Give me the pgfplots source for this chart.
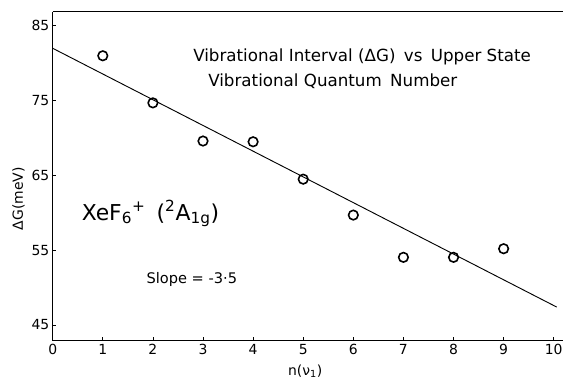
\documentclass[border=0pt]{standalone}
\usepackage{pgfplots}
\pgfplotsset{compat=1.18}
\usepackage{fontspec}
\setmainfont{DejaVu Sans}
\begin{document}
\begin{tikzpicture}[x=0.75pt,y=0.75pt]
\begin{axis}[
  name=ax, at={(0,0)}, anchor=south west,
  scale only axis, width=384.75pt, height=248.25pt,
  xmin=0, xmax=10.18, ymin=42.9, ymax=86.9,
  axis x line=box, axis y line=left,
  axis line style={line width=0.8pt, -},
  xtick={0,1,...,10}, ytick={45,55,65,75,85},
  xtick pos=bottom, ytick pos=left,
  tick align=inside, major tick length=2.5pt,
  tick style={line width=0.6pt,black},
  /pgf/number format/assume math mode=true,
  ticklabel style={font=\fontsize{10.5}{12}\selectfont},
  xticklabel style={yshift=1pt},
  yticklabel style={xshift=1pt},
  xlabel={n(ν\textsubscript{1})},
  xlabel style={at={(axis description cs:0.495,-0.0915)}, anchor=center, font=\fontsize{10.5}{12}\selectfont},
  ylabel={ΔG(meV)},
  ylabel style={at={(axis description cs:-0.067,0.431)}, anchor=center, rotate=0, font=\fontsize{10.5}{12}\selectfont},
  clip=false,
]
\addplot[black, line width=0.7pt, no marks] coordinates {(0,82.0) (10.06,47.4)};
\addplot[only marks, mark=o, mark size=3.6pt, mark options={line width=1.2pt, black}] coordinates {
(1,81.0) (2,74.7) (3,69.6) (4,69.5) (5,64.5) (6,59.7) (7,54.05) (8,54.05) (9,55.2)};
\node[anchor=base west, inner sep=0pt, font=\fontsize{12.6}{14}\selectfont] at (axis cs:2.80,80.25) {Vibrational Interval (ΔG)\enspace vs\enspace Upper State};
\node[anchor=base west, inner sep=0pt, font=\fontsize{12.6}{14}\selectfont] at (axis cs:3.10,76.85) {Vibrational Quantum\enspace Number};
\node[anchor=base west, inner sep=0pt, font=\fontsize{16.5}{20}\selectfont] at (axis cs:0.575,59.0) {XeF\textsubscript{6}\textsuperscript{+}\enspace(\textsuperscript{2}A\textsubscript{1g})};
\node[anchor=base west, inner sep=0pt, font=\fontsize{11}{14}\selectfont] at (axis cs:1.87,50.56) {Slope = -3·5};
\end{axis}
\useasboundingbox (-53,-37.3) rectangle (514,11.7+331);
\end{tikzpicture}
\end{document}
